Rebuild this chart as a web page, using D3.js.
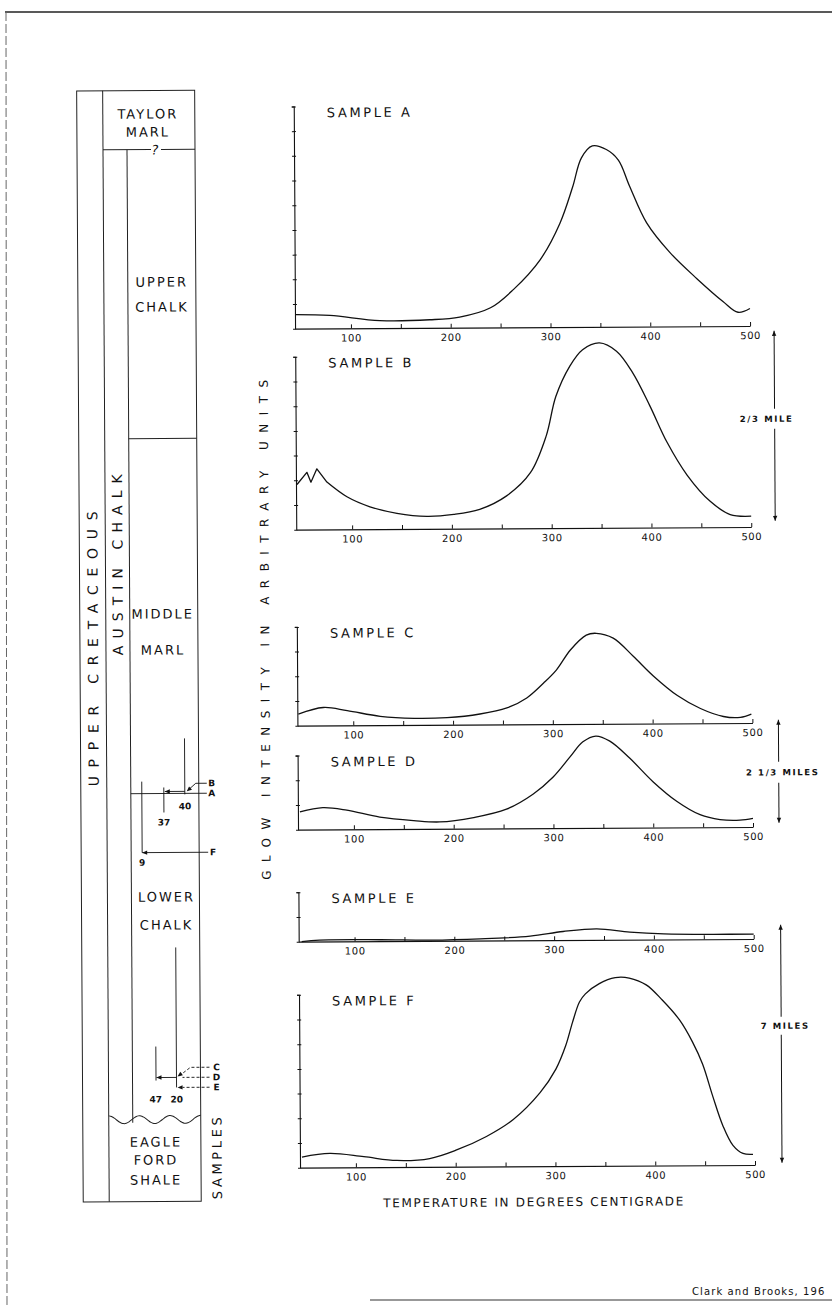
<!DOCTYPE html>
<html>
<head>
<meta charset="utf-8">
<script src="https://cdnjs.cloudflare.com/ajax/libs/d3/7.8.5/d3.min.js"></script>
<style>
    body { margin: 0; background: #fff; }
    svg { display: block; font-family: "DejaVu Sans", sans-serif; }
</style>
</head>
<body>
<svg id="fig" width="832" height="1311"></svg>
<script>
// glow curves, [temperature in deg C, intensity in axis units]
var sampleA = [[45,0.57],[79,0.53],[129,0.31],[179,0.33],[209,0.43],[240,0.8],[263,1.53],[290,2.73],[310,4.2],[323,5.67],[332,6.85],[343,7.33],[357,7.18],[369,6.75],[380,5.7],[397,4.2],[420,3.0],[447,1.93],[473,1.0],[488,0.56],[500,0.71]];
var sampleB = [[45,1.83],[55,2.32],[59,1.92],[65,2.46],[75,1.92],[95,1.32],[118,0.91],[145,0.64],[175,0.51],[202,0.58],[228,0.78],[255,1.32],[279,2.25],[295,3.73],[305,5.34],[319,6.55],[332,7.22],[349,7.49],[366,7.15],[382,6.28],[399,4.94],[416,3.46],[436,2.12],[459,1.05],[479,0.51],[500,0.44]];
var sampleC = [[45,0.47],[70,0.73],[94,0.6],[127,0.36],[161,0.27],[194,0.29],[227,0.43],[254,0.67],[274,1.07],[291,1.67],[304,2.2],[318,3.0],[334,3.6],[344,3.67],[361,3.47],[381,2.73],[401,1.93],[425,1.13],[448,0.6],[471,0.27],[488,0.23],[499,0.36]];
var sampleD = [[46,0.72],[69,0.89],[93,0.78],[126,0.49],[160,0.34],[186,0.28],[220,0.45],[253,0.78],[280,1.39],[300,2.07],[317,2.88],[330,3.49],[343,3.72],[357,3.51],[377,2.81],[400,1.86],[424,1.05],[447,0.51],[467,0.31],[487,0.28],[500,0.35]];
var sampleE = [[47,0.0],[65,0.06],[126,0.06],[176,0.03],[226,0.07],[276,0.17],[309,0.35],[343,0.45],[376,0.31],[410,0.23],[460,0.2],[500,0.2]];
var sampleF = [[46,0.43],[74,0.57],[108,0.43],[141,0.27],[174,0.34],[201,0.68],[231,1.22],[258,1.9],[285,2.98],[301,3.93],[311,4.88],[318,5.83],[325,6.64],[331,6.97],[345,7.38],[361,7.62],[375,7.6],[392,7.32],[408,6.7],[425,5.9],[438,5.0],[448,4.1],[458,2.8],[468,1.6],[478,0.8],[488,0.47],[498,0.43]];

var sampleNames = ['SAMPLE A', 'SAMPLE B', 'SAMPLE C', 'SAMPLE D', 'SAMPLE E', 'SAMPLE F'];
var panelUnits = [9, 7, 4, 3, 2, 7];
var xTickValues = [100, 150, 200, 250, 300, 350, 400, 450, 500];
var xDomain = [44, 500];

var columnLabels = ['TAYLOR', 'MARL', 'UPPER', 'CHALK', 'MIDDLE', 'MARL', 'LOWER', 'CHALK', 'EAGLE', 'FORD', 'SHALE'];
var distanceLabels = ['40', '37', '9', '47', '20'];
var scaleBarLabels = ['2/3 MILE', '2 1/3 MILES', '7 MILES'];

(function () {
    'use strict';

    var svg = d3.select('#fig');
    var ink = '#111';

    // page frame
    svg.append('line').attr('x1', 5).attr('y1', 12).attr('x2', 832).attr('y2', 12)
        .attr('stroke', '#222').attr('stroke-width', 1.3);
    svg.append('line').attr('x1', 6).attr('y1', 12).attr('x2', 7).attr('y2', 1305)
        .attr('stroke', '#666').attr('stroke-width', 1).attr('stroke-dasharray', '9,3');
    svg.append('line').attr('x1', 370).attr('y1', 1300).attr('x2', 832).attr('y2', 1300)
        .attr('stroke', '#333').attr('stroke-width', 1.2);
    svg.append('text').attr('x', 692).attr('y', 1295)
        .attr('font-size', 10).attr('letter-spacing', 1.1).attr('fill', ink)
        .text('Clark and Brooks, 196');

    // the scan is a bit skewed
    var fig = svg.append('g').attr('transform', 'rotate(-0.34,416,655)');

    drawColumn(fig);
    drawPanels(fig);
    drawScaleBars(fig);

    function drawColumn(g) {
        var L = 80, L2 = 106, L3 = 130, R = 198, T = 89, B = 1200, wave = 1117;
        var c = g.append('g').attr('stroke', '#222').attr('stroke-width', 1).attr('fill', 'none');

        c.append('rect').attr('x', L).attr('y', T).attr('width', R - L).attr('height', B - T);
        c.append('line').attr('x1', L2).attr('y1', T).attr('x2', L2).attr('y2', B);
        c.append('line').attr('x1', L3).attr('y1', 148).attr('x2', L3).attr('y2', wave + 4);
        c.append('line').attr('x1', L2).attr('y1', 148).attr('x2', 154).attr('y2', 148);
        c.append('line').attr('x1', 164).attr('y1', 148).attr('x2', R).attr('y2', 148);
        c.append('line').attr('x1', L3).attr('y1', 437).attr('x2', R).attr('y2', 437);

        // unconformity at the top of the shale
        var wx = d3.scaleLinear().domain([0, 1]).range([L2, R]);
        var wavePts = d3.range(0, 1.0001, 0.02).map(function (t) {
            return [wx(t), wave + 4 * Math.cos(t * 6 * Math.PI) * -1 + 1];
        });
        c.append('path').attr('d', d3.line().curve(d3.curveBasis)(wavePts));

        var t = g.append('g').attr('fill', ink).attr('font-size', 13)
            .attr('letter-spacing', 2).attr('text-anchor', 'middle');
        var pos = [[151, 117], [151, 135], [164, 285], [164, 310], [163, 617], [163, 653],
                   [165, 900], [165, 928], [153, 1145], [153, 1163], [153, 1183]];
        columnLabels.forEach(function (lab, i) {
            t.append('text').attr('x', pos[i][0]).attr('y', pos[i][1]).text(lab);
        });
        t.append('text').attr('x', 159).attr('y', 153).attr('font-size', 13)
            .attr('font-style', 'italic').text('?');

        g.append('text').attr('transform', 'translate(93,647) rotate(-90)')
            .attr('text-anchor', 'middle').attr('dy', '0.36em').attr('font-size', 14)
            .attr('textLength', 275).attr('lengthAdjust', 'spacing').attr('fill', ink)
            .text('UPPER CRETACEOUS');
        g.append('text').attr('transform', 'translate(118,563) rotate(-90)')
            .attr('text-anchor', 'middle').attr('dy', '0.36em').attr('font-size', 14)
            .attr('textLength', 181).attr('lengthAdjust', 'spacing').attr('fill', ink)
            .text('AUSTIN CHALK');
        g.append('text').attr('transform', 'translate(214,1157) rotate(-90)')
            .attr('text-anchor', 'middle').attr('dy', '0.36em').attr('font-size', 13)
            .attr('textLength', 82).attr('lengthAdjust', 'spacing').attr('fill', ink)
            .text('SAMPLES');

        drawSampleMarks(g);
    }

    function drawSampleMarks(g) {
        var m = g.append('g').attr('stroke', ink).attr('stroke-width', 0.9).attr('fill', 'none');
        var lab = g.append('g').attr('fill', ink).attr('font-size', 9).attr('font-weight', 'bold')
            .attr('text-anchor', 'middle');

        // samples A, B (40 and 37)
        vline(m, 184, 737, 793);
        vline(m, 163, 786, 811);
        m.append('line').attr('x1', 130).attr('y1', 792).attr('x2', 206).attr('y2', 792);
        m.append('polyline').attr('points', '206,782 195,782 187,789');
        arrowHead(m, 195, 782, 186, 790);
        arrow(m, 184, 790, 164, 790);
        // sample F (9)
        vline(m, 141, 780, 851);
        arrow(m, 207, 851, 141, 851);

        // samples C, D, E (47 and 20)
        vline(m, 174, 946, 1086);
        vline(m, 153.5, 1045, 1079);
        m.append('line').attr('x1', 207).attr('y1', 1076).attr('x2', 180).attr('y2', 1076)
            .attr('stroke-dasharray', '3,2');
        arrow(m, 174, 1076, 154, 1076);
        m.append('polyline').attr('points', '207,1066 188,1066 176,1075')
            .attr('stroke-dasharray', '3,2');
        arrowHead(m, 188, 1066, 175, 1075);
        m.append('line').attr('x1', 207).attr('y1', 1086).attr('x2', 180).attr('y2', 1086)
            .attr('stroke-dasharray', '3,2');
        arrowHead(m, 207, 1086, 175, 1086);

        var letters = [['B', 211, 785], ['A', 211, 795], ['F', 212, 854], ['C', 214, 1069], ['D', 214, 1079], ['E', 214, 1089]];
        letters.forEach(function (d) {
            lab.append('text').attr('x', d[1]).attr('y', d[2]).text(d[0]);
        });
        var numPos = [[184, 808], [163, 824], [141, 864], [153, 1101], [174, 1101]];
        distanceLabels.forEach(function (d, i) {
            lab.append('text').attr('x', numPos[i][0]).attr('y', numPos[i][1]).text(d);
        });
    }

    function vline(g, x, y1, y2) {
        g.append('line').attr('x1', x).attr('y1', y1).attr('x2', x).attr('y2', y2);
    }

    function arrowHead(g, x1, y1, x2, y2) {
        var a = Math.atan2(y2 - y1, x2 - x1), s = 5, w = 2.2;
        var p = [[x2, y2],
            [x2 - s * Math.cos(a) + w * Math.sin(a), y2 - s * Math.sin(a) - w * Math.cos(a)],
            [x2 - s * Math.cos(a) - w * Math.sin(a), y2 - s * Math.sin(a) + w * Math.cos(a)]];
        g.append('path').attr('d', 'M' + p.join('L') + 'Z').attr('fill', ink).attr('stroke', 'none');
    }

    function arrow(g, x1, y1, x2, y2) {
        g.append('line').attr('x1', x1).attr('y1', y1).attr('x2', x2).attr('y2', y2);
        arrowHead(g, x1, y1, x2, y2);
    }

    function drawPanels(g) {
        var series = [sampleA, sampleB, sampleC, sampleD, sampleE, sampleF];
        var base = [328, 529, 725, 829, 941, 1167];
        var unit = 24.7;
        var x = d3.scaleLinear().domain(xDomain).range([297, 752]);

        series.forEach(function (data, i) {
            var y = d3.scaleLinear().domain([0, panelUnits[i]])
                .range([base[i], base[i] - panelUnits[i] * unit]);
            var p = g.append('g');

            var xa = p.append('g').attr('transform', 'translate(0,' + base[i] + ')')
                .call(d3.axisBottom(x).tickValues(xTickValues).tickSizeInner(-4)
                    .tickSizeOuter(0).tickPadding(6)
                    .tickFormat(function (d) { return d % 100 === 0 ? d : ''; }));
            xa.select('.domain').attr('stroke', ink).attr('stroke-width', 1.2);
            xa.selectAll('.tick line').attr('stroke', ink);
            xa.selectAll('.tick text').attr('fill', ink).attr('font-size', 10)
                .attr('font-family', '"DejaVu Sans", sans-serif').attr('letter-spacing', 0.6);

            var ya = p.append('g').attr('transform', 'translate(' + x(xDomain[0]) + ',0)')
                .call(d3.axisLeft(y).tickValues(d3.range(1, panelUnits[i] + 1))
                    .tickSizeOuter(0).tickSize(2).tickFormat(''));
            ya.select('.domain').attr('stroke', ink).attr('stroke-width', 1.1);
            ya.selectAll('.tick line').attr('x1', -2).attr('x2', 2).attr('stroke', ink);

            p.append('text').attr('x', x(xDomain[0]) + 33).attr('y', base[i] - panelUnits[i] * unit + 11)
                .attr('font-size', 13).attr('letter-spacing', 2.6).attr('fill', ink)
                .text(sampleNames[i]);

            var curve = d3.line().x(function (d) { return x(d[0]); })
                .y(function (d) { return y(d[1]); })
                .curve(d3.curveCatmullRom.alpha(0.5));
            var path = curve(data);
            if (data === sampleB) {
                // sample B starts with a jagged trace
                var kink = d3.line().x(function (d) { return x(d[0]); })
                    .y(function (d) { return y(d[1]); });
                path = kink(data.slice(0, 5)) + curve(data.slice(4)).replace(/^M/, 'L');
            }
            p.append('path').attr('d', path).attr('fill', 'none')
                .attr('stroke', ink).attr('stroke-width', 1.3).attr('stroke-linejoin', 'round');
        });

        g.append('text').attr('x', 530).attr('y', 1207).attr('text-anchor', 'middle')
            .attr('font-size', 12).attr('textLength', 300).attr('lengthAdjust', 'spacing')
            .attr('fill', ink).text('TEMPERATURE IN DEGREES CENTIGRADE');
        g.append('text').attr('transform', 'translate(265,629) rotate(-90)')
            .attr('text-anchor', 'middle').attr('dy', '0.36em').attr('font-size', 12)
            .attr('textLength', 500).attr('lengthAdjust', 'spacing').attr('fill', ink)
            .text('GLOW INTENSITY IN ARBITRARY UNITS');
    }

    function drawScaleBars(g) {
        // x, top, bottom, gap top, gap bottom, label x
        var bars = [[776, 333, 523, 411, 431, 768], [778, 722, 825, 764, 785, 782], [779, 927, 1165, 1019, 1037, 783]];
        var s = g.append('g').attr('stroke', ink).attr('stroke-width', 1).attr('fill', 'none');
        bars.forEach(function (b, i) {
            arrow(s, b[0], b[3], b[0], b[1]);
            arrow(s, b[0], b[4], b[0], b[2]);
            g.append('text').attr('x', b[5]).attr('y', (b[3] + b[4]) / 2 + 3)
                .attr('text-anchor', 'middle').attr('font-size', 8.5).attr('font-weight', 'bold')
                .attr('letter-spacing', 1.6).attr('fill', ink)
                .text(scaleBarLabels[i]);
        });
    }
})();
</script>
</body>
</html>
